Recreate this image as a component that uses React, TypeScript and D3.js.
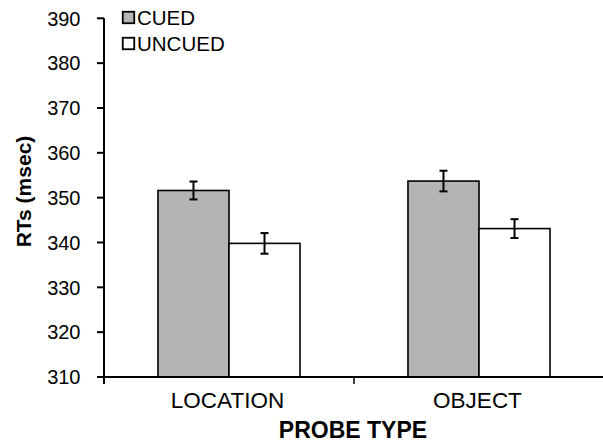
import React from "react";
import * as d3 from "d3";

const categories = ["LOCATION", "OBJECT"];
const seriesNames = ["CUED", "UNCUED"];
const cuedMeans = [351.6, 353.7];
const uncuedMeans = [339.8, 343.1];
const cuedErr = [2.0, 2.3];
const uncuedErr = [2.3, 2.1];
const yTicks = [310, 320, 330, 340, 350, 360, 370, 380, 390];
const seriesFill = ["#b4b4b4", "#ffffff"];

const W = 603;
const H = 444;
const FONT = "'Liberation Sans', Arial, Helvetica, sans-serif";

export default function App() {
  const y = d3.scaleLinear().domain([310, 390]).range([377, 18.3]);
  const x0 = d3.scaleBand<string>().domain(categories).range([104, 604]).paddingInner(0).paddingOuter(0);
  const x1 = d3
    .scaleBand<string>()
    .domain(seriesNames)
    .range([0, x0.bandwidth()])
    .paddingInner(0)
    .paddingOuter(0.76);

  const means = [cuedMeans, uncuedMeans];
  const errs = [cuedErr, uncuedErr];
  const x0Left = 104;
  const x0Right = 604;
  const yBottom = y(310);
  const yTop = y(390);

  const xTickPositions = [x0Left, ...categories.slice(1).map((c) => x0(c) as number), x0Right];

  return (
    <svg
      width={W}
      height={H}
      style={{ position: "absolute", left: 0, top: 0, background: "#fff" }}
      fontFamily={FONT}
    >
      <rect x={0} y={0} width={W} height={H} fill="#fff" />
      {/* bars */}
      {categories.map((c, ci) =>
        seriesNames.map((s, si) => {
          const bx = (x0(c) as number) + (x1(s) as number);
          const v = means[si][ci];
          const e = errs[si][ci];
          const cx = bx + x1.bandwidth() / 2;
          return (
            <g key={c + s}>
              <rect
                x={bx}
                y={y(v)}
                width={x1.bandwidth()}
                height={yBottom - y(v)}
                fill={seriesFill[si]}
                stroke="#000"
                strokeWidth={1.6}
              />
              <line x1={cx} x2={cx} y1={y(v + e)} y2={y(v - e)} stroke="#000" strokeWidth={2} />
              <line x1={cx - 4} x2={cx + 4} y1={y(v + e)} y2={y(v + e)} stroke="#000" strokeWidth={2} />
              <line x1={cx - 4} x2={cx + 4} y1={y(v - e)} y2={y(v - e)} stroke="#000" strokeWidth={2} />
            </g>
          );
        })
      )}
      {/* y axis */}
      <line x1={x0Left} x2={x0Left} y1={yTop} y2={yBottom + 7} stroke="#000" strokeWidth={2} />
      {yTicks.map((t) => (
        <g key={t}>
          <line x1={x0Left - 7} x2={x0Left} y1={y(t)} y2={y(t)} stroke="#000" strokeWidth={2} />
          <text
            x={80.5}
            y={y(t)}
            dy="0.36em"
            textAnchor="end"
            fontSize={20}
            fill="#000"
          >
            {t}
          </text>
        </g>
      ))}
      {/* x axis */}
      <line x1={x0Left} x2={x0Right} y1={yBottom} y2={yBottom} stroke="#000" strokeWidth={2.2} />
      {xTickPositions.map((p, i) => (
        <line key={i} x1={p} x2={p} y1={yBottom} y2={yBottom + 7} stroke="#000" strokeWidth={1.5} />
      ))}
      {categories.map((c) => (
        <text
          key={c}
          x={(x0(c) as number) + x0.bandwidth() / 2 - 1.5}
          y={408}
          textAnchor="middle"
          fontSize={22.5}
          fill="#000"
        >
          {c}
        </text>
      ))}
      <text x={353} y={438} textAnchor="middle" fontSize={23} fontWeight="bold" fill="#000">
        PROBE TYPE
      </text>
      <text
        transform={`translate(31,${191.5}) rotate(-90)`}
        textAnchor="middle"
        fontSize={21}
        fontWeight="bold"
        fill="#000"
      >
        RTs (msec)
      </text>
      {/* legend */}
      {seriesNames.map((s, i) => (
        <g key={s} transform={`translate(122,${11 + i * 26})`}>
          <rect x={0.75} y={0.75} width={11.5} height={11.5} fill={seriesFill[i]} stroke="#000" strokeWidth={1.8} />
          <text x={15} y={14} fontSize={20.5} fill="#000">
            {s}
          </text>
        </g>
      ))}
    </svg>
  );
}
